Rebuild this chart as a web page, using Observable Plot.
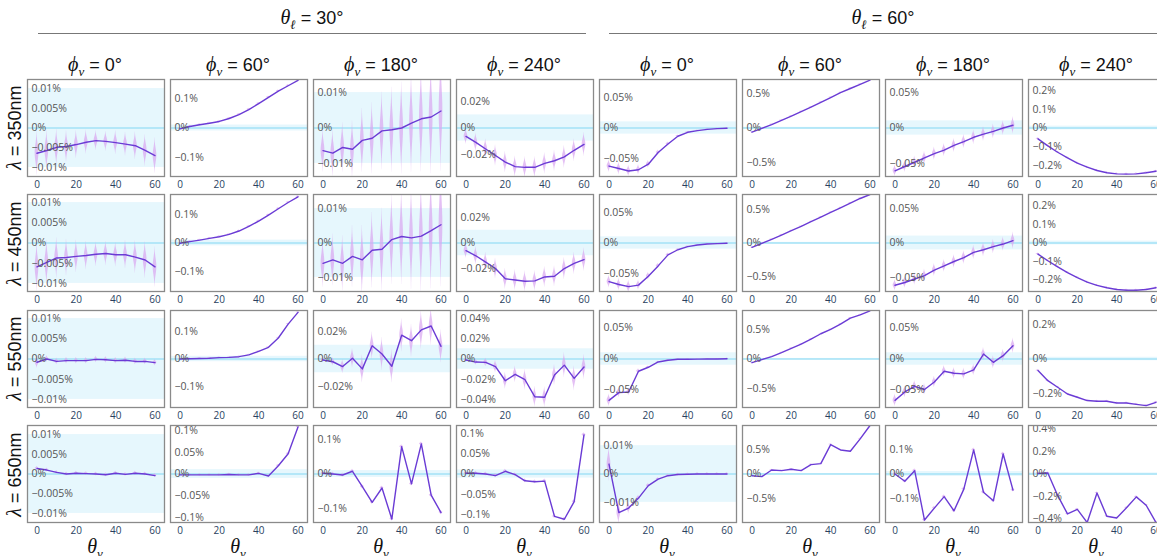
<!DOCTYPE html>
<html><head><meta charset="utf-8">
<script src="https://cdn.jsdelivr.net/npm/d3@7"></script>
<script src="https://cdn.jsdelivr.net/npm/@observablehq/plot@0.6"></script>
<style>
html,body{margin:0;padding:0;background:#fff;}
#root{position:relative;width:1157px;height:556px;overflow:hidden;font-family:"Liberation Sans",Arial,sans-serif;color:#111;}
.abs{position:absolute;white-space:nowrap;}
.hdr{font-size:18px;line-height:22px;text-align:center;transform:translateX(-50%);}
.g{font-family:"Liberation Serif","DejaVu Serif",serif;font-style:italic;font-size:20px;}
.s{font-family:"Liberation Serif","DejaVu Serif",serif;font-style:italic;font-size:13px;position:relative;top:5px;}
.rule{position:absolute;height:0;border-top:1.4px solid #777;}
.rowlab{font-size:18px;line-height:22px;width:140px;text-align:center;transform:rotate(-90deg);}
svg{overflow:visible;}
</style></head>
<body><div id="root"></div>
<script>
// ---------------- data ----------------
const thetaV = [0,5,10,15,20,25,30,35,40,45,50,55,60];
const xTicks = [0,20,40,60];
const wavelengths = ["350nm","450nm","550nm","650nm"];
const thetaL = ["30°","60°"];
const phiV = ["0°","60°","180°","240°"];
const bandHalf = 0.01; // shaded band, ±0.01 %

// mean relative difference (%) per panel: columns = θℓ30 φ0,60,180,240 | θℓ60 φ0,60,180,240
const mean350 = [
 [-0.0064,-0.0057,-0.0049,-0.0047,-0.0042,-0.0036,-0.0032,-0.0034,-0.0037,-0.0041,-0.0045,-0.0057,-0.0070],
 [-0.003,0.005,0.011,0.016,0.022,0.032,0.045,0.062,0.082,0.103,0.124,0.142,0.160],
 [-0.0064,-0.0071,-0.0055,-0.0060,-0.0035,-0.0029,-0.0008,-0.0005,0.0000,0.0014,0.0026,0.0031,0.0048],
 [-0.0064,-0.011,-0.016,-0.021,-0.026,-0.0295,-0.030,-0.030,-0.027,-0.025,-0.022,-0.017,-0.0125],
 [-0.062,-0.066,-0.070,-0.068,-0.059,-0.040,-0.026,-0.0134,-0.007,-0.0043,-0.0022,-0.001,-0.0005],
 [-0.060,-0.005,0.050,0.110,0.170,0.235,0.300,0.370,0.440,0.510,0.570,0.630,0.690],
 [-0.060,-0.054,-0.048,-0.042,-0.036,-0.031,-0.0245,-0.019,-0.013,-0.0085,-0.0047,0.0,0.0038],
 [-0.058,-0.096,-0.130,-0.160,-0.188,-0.210,-0.228,-0.240,-0.246,-0.247,-0.246,-0.240,-0.232]
];
const mean450 = [
 [-0.0059,-0.0048,-0.0037,-0.0036,-0.0033,-0.0031,-0.0028,-0.0026,-0.0029,-0.0029,-0.0035,-0.0042,-0.0059],
 [-0.001,0.005,0.010,0.016,0.022,0.030,0.042,0.058,0.077,0.098,0.120,0.142,0.162],
 [-0.0059,-0.0049,-0.0059,-0.0039,-0.0049,-0.0021,-0.0018,0.0010,0.0019,0.0015,0.0020,0.0036,0.0053],
 [-0.006,-0.010,-0.015,-0.020,-0.028,-0.029,-0.030,-0.0297,-0.0266,-0.026,-0.020,-0.016,-0.013],
 [-0.063,-0.0676,-0.071,-0.0686,-0.054,-0.0373,-0.0193,-0.011,-0.006,-0.0033,-0.0016,-0.001,-0.0005],
 [-0.066,-0.005,0.055,0.120,0.185,0.250,0.320,0.390,0.460,0.530,0.600,0.670,0.730],
 [-0.061,-0.057,-0.052,-0.047,-0.039,-0.033,-0.0267,-0.021,-0.0136,-0.0097,-0.0053,-0.0015,0.0034],
 [-0.060,-0.096,-0.129,-0.160,-0.187,-0.211,-0.229,-0.242,-0.251,-0.255,-0.255,-0.251,-0.242]
];
const mean550 = [
 [-0.0008,0.0000,-0.0006,-0.0004,-0.0004,-0.0004,-0.0001,-0.0002,-0.0004,-0.0003,-0.0006,-0.0006,-0.0009],
 [0.000,0.001,0.002,0.003,0.005,0.006,0.0085,0.015,0.028,0.043,0.077,0.128,0.171],
 [-0.0007,-0.002,-0.0055,0.0005,-0.0072,0.0096,0.0036,-0.0053,0.0173,0.0133,0.0212,0.024,0.0092],
 [-0.001,-0.003,-0.0033,-0.0075,-0.0213,-0.015,-0.0203,-0.037,-0.0374,-0.0157,-0.006,-0.019,-0.0079],
 [-0.0665,-0.054,-0.053,-0.0197,-0.0133,-0.0048,-0.002,-0.0005,-0.0003,-0.0002,0.0,0.0,0.0005],
 [-0.062,-0.011,0.039,0.107,0.180,0.253,0.337,0.427,0.500,0.590,0.690,0.747,0.815],
 [-0.0665,-0.053,-0.044,-0.049,-0.037,-0.0197,-0.023,-0.024,-0.0176,0.008,-0.0053,0.0053,0.0213],
 [-0.067,-0.125,-0.163,-0.202,-0.221,-0.240,-0.244,-0.244,-0.254,-0.254,-0.262,-0.269,-0.250]
];
const mean650 = [
 [0.0014,0.0010,0.0004,0.0000,0.0002,0.0001,0.0000,-0.0002,0.0002,-0.0001,0.0002,0.0000,-0.0004],
 [-0.002,-0.002,-0.002,-0.002,-0.002,-0.001,-0.002,-0.002,0.0015,-0.0045,0.019,0.0465,0.108],
 [0.002,0.000,-0.003,0.008,-0.037,-0.083,-0.041,-0.132,0.080,-0.029,0.088,-0.062,-0.113],
 [0.0017,0.0017,0.000,-0.004,0.0067,-0.0017,-0.0167,-0.019,-0.0175,-0.104,-0.111,-0.068,0.096],
 [0.0035,-0.0136,-0.012,-0.0085,-0.0041,-0.0018,-0.0006,-0.0002,-0.0001,0.0,0.0,0.0,0.0],
 [-0.034,-0.054,0.081,0.068,0.095,0.068,0.190,0.210,0.595,0.486,0.460,0.710,0.980],
 [0.000,-0.030,0.0137,-0.189,-0.140,-0.093,-0.151,-0.062,0.099,-0.075,-0.110,0.082,-0.066],
 [0.005,0.009,-0.190,-0.354,-0.314,-0.430,-0.169,-0.375,-0.390,-0.300,-0.203,-0.277,-0.430]
];

// half-extent of the uncertainty distribution (%) at each point
const spread350 = [
 [0.0055,0.005,0.0045,0.004,0.0035,0.003,0.0025,0.0025,0.003,0.003,0.0035,0.004,0.0045],
 [0.004,0.004,0.004,0.004,0.004,0.004,0.004,0.004,0.004,0.004,0.004,0.004,0.004],
 [0.006,0.0065,0.007,0.008,0.009,0.010,0.011,0.012,0.013,0.014,0.015,0.016,0.017],
 [0.006,0.007,0.0075,0.008,0.008,0.008,0.008,0.008,0.008,0.008,0.0085,0.0085,0.009],
 [0.010,0.010,0.009,0.008,0.006,0.004,0.003,0.002,0.0015,0.001,0.001,0.001,0.001],
 [0.010,0.010,0.010,0.010,0.010,0.010,0.010,0.010,0.010,0.010,0.010,0.010,0.010],
 [0.008,0.008,0.0085,0.009,0.009,0.009,0.0095,0.0095,0.010,0.010,0.010,0.010,0.012],
 [0.006,0.006,0.006,0.006,0.006,0.006,0.006,0.006,0.006,0.006,0.006,0.006,0.006]
];
const spread450 = [
 [0.006,0.0055,0.005,0.0045,0.004,0.0035,0.003,0.003,0.003,0.0035,0.004,0.0045,0.005],
 [0.004,0.004,0.004,0.004,0.004,0.004,0.004,0.004,0.004,0.004,0.004,0.004,0.004],
 [0.007,0.0075,0.008,0.009,0.010,0.011,0.012,0.013,0.014,0.015,0.016,0.017,0.018],
 [0.006,0.007,0.0075,0.008,0.008,0.008,0.008,0.008,0.008,0.008,0.0085,0.0085,0.009],
 [0.010,0.010,0.010,0.008,0.006,0.004,0.003,0.002,0.0015,0.001,0.001,0.001,0.001],
 [0.010,0.010,0.010,0.010,0.010,0.010,0.010,0.010,0.010,0.010,0.010,0.010,0.010],
 [0.008,0.008,0.0085,0.009,0.009,0.009,0.0095,0.0095,0.010,0.010,0.010,0.010,0.012],
 [0.006,0.006,0.006,0.006,0.006,0.006,0.006,0.006,0.006,0.006,0.006,0.006,0.006]
];
const spread550 = [
 [0.0015,0.0008,0.0008,0.0008,0.0008,0.0008,0.0008,0.0008,0.0008,0.0008,0.0008,0.0008,0.0008],
 [0.003,0.003,0.003,0.003,0.003,0.003,0.003,0.003,0.003,0.003,0.003,0.003,0.003],
 [0.002,0.003,0.005,0.007,0.010,0.010,0.012,0.012,0.012,0.012,0.014,0.014,0.012],
 [0.002,0.003,0.004,0.006,0.008,0.008,0.010,0.010,0.010,0.010,0.012,0.012,0.012],
 [0.010,0.008,0.006,0.004,0.002,0.001,0.001,0.001,0.001,0.001,0.001,0.001,0.001],
 [0.010,0.010,0.010,0.010,0.010,0.010,0.010,0.010,0.010,0.010,0.010,0.010,0.010],
 [0.010,0.009,0.009,0.009,0.009,0.009,0.009,0.009,0.009,0.010,0.010,0.010,0.012],
 [0.006,0.006,0.006,0.006,0.006,0.006,0.006,0.006,0.006,0.006,0.006,0.006,0.006]
];
const spread650 = [
 [0.0005,0.0005,0.0005,0.0005,0.0005,0.0005,0.0005,0.0005,0.0005,0.0005,0.0005,0.0005,0.0005],
 [0.003,0.003,0.003,0.003,0.003,0.003,0.003,0.003,0.003,0.003,0.003,0.003,0.003],
 [0.006,0.006,0.006,0.006,0.006,0.006,0.006,0.006,0.006,0.006,0.006,0.006,0.006],
 [0.005,0.005,0.005,0.005,0.005,0.005,0.005,0.005,0.005,0.005,0.005,0.005,0.005],
 [0.006,0.004,0.002,0.001,0.0008,0.0005,0.0005,0.0005,0.0005,0.0005,0.0005,0.0005,0.0005],
 [0.015,0.015,0.015,0.015,0.015,0.015,0.015,0.015,0.015,0.015,0.015,0.015,0.015],
 [0.008,0.008,0.008,0.008,0.008,0.008,0.008,0.008,0.008,0.008,0.008,0.008,0.008],
 [0.010,0.010,0.010,0.010,0.010,0.010,0.010,0.010,0.010,0.010,0.010,0.010,0.010]
];

// symmetric y-axis half range (%) per panel
const yMax350 = [0.0123,0.163,0.0137,0.037,0.079,0.70,0.068,0.26];
const yMax450 = [0.012,0.17,0.0141,0.038,0.079,0.73,0.07,0.262];
const yMax550 = [0.012,0.178,0.0353,0.0475,0.078,0.82,0.078,0.28];
const yMax650 = [0.0123,0.1115,0.142,0.119,0.0171,0.98,0.199,0.43];

// y tick values (%) per panel
const yTicks350 = [[0.01,0.005,0,-0.005,-0.01],[0.1,0,-0.1],[0.01,0,-0.01],[0.02,0,-0.02],[0.05,0,-0.05],[0.5,0,-0.5],[0.05,0,-0.05],[0.2,0.1,0,-0.1,-0.2]];
const yTicks450 = [[0.01,0.005,0,-0.005,-0.01],[0.1,0,-0.1],[0.01,0,-0.01],[0.02,0,-0.02],[0.05,0,-0.05],[0.5,0,-0.5],[0.05,0,-0.05],[0.2,0.1,0,-0.1,-0.2]];
const yTicks550 = [[0.01,0.005,0,-0.005,-0.01],[0.1,0,-0.1],[0.02,0,-0.02],[0.04,0.02,0,-0.02,-0.04],[0.05,0,-0.05],[0.5,0,-0.5],[0.05,0,-0.05],[0.2,0,-0.2]];
const yTicks650 = [[0.01,0.005,0,-0.005,-0.01],[0.1,0.05,0,-0.05,-0.1],[0.1,0,-0.1],[0.1,0.05,0,-0.05,-0.1],[0.01,0,-0.01],[0.5,0,-0.5],[0.1,0,-0.1],[0.4,0.2,0,-0.2,-0.4]];

// ---------------- layout ----------------
const means = [mean350, mean450, mean550, mean650];
const spreads = [spread350, spread450, spread550, spread650];
const yMaxes = [yMax350, yMax450, yMax550, yMax650];
const yTicksAll = [yTicks350, yTicks450, yTicks550, yTicks650];

const PW = 137, PH = 97;
const colLeft = c => 26.5 + c * 143;
const rowTop = r => 78.5 + r * 115.5;
const root = document.getElementById("root");

const fmt = v => v === 0 ? "0%" : (v < 0 ? "\u2212" : "") + String(Math.abs(v)) + "%";

function panel(r, c) {
  const mean = means[r][c], spread = spreads[r][c], M = yMaxes[r][c], ticks = yTicksAll[r][c];
  const pts = thetaV.map((t, i) => ({t, v: mean[i]}));
  const vio = [];
  thetaV.forEach((t, i) => {
    for (let k = 0; k <= 16; k++) {
      const u = -1 + k / 8;
      const w = 0.95 * Math.exp(-3.2 * u * u) * (1 - u * u * 0.15);
      vio.push({i, y: mean[i] + u * spread[i], x1: t - w, x2: t + w});
    }
  });
  return Plot.plot({
    width: PW + 2, height: PH + 2 + 20,
    marginTop: 1, marginBottom: 21, marginLeft: 1, marginRight: 1,
    style: {background: "transparent", fontFamily: "'Open Sans', sans-serif", fontSize: "10px", overflow: "visible"},
    x: {domain: [0, 60], insetLeft: 9.5, insetRight: 9.5},
    y: {domain: [-M, M]},
    marks: [
      Plot.rect([{lo: -bandHalf, hi: bandHalf}], {y1: d => d.lo, y2: d => d.hi, fill: "#e6f7fd", clip: true}),
      Plot.ruleY([0], {stroke: "#a3e2f6", strokeWidth: 1.3}),
      Plot.areaX(vio, {y: "y", x1: "x1", x2: "x2", z: "i", fill: "#d9a8f0", fillOpacity: 0.72, clip: true}),
      Plot.line(pts, {x: "t", y: "v", stroke: "#6a3bd5", strokeWidth: 1.4, clip: true}),
      Plot.axisY(ticks, {anchor: "left", tickSize: 0, tickPadding: 0, dx: 4, textAnchor: "start", tickFormat: fmt, fill: "#555", fontSize: 10.5, label: null, clip: true}),
      Plot.axisX(xTicks, {anchor: "bottom", tickSize: 0, tickPadding: 4.5, fill: "#2a3f5f", fontSize: 10, label: null}),
      Plot.frame({stroke: "#8a8a8a", strokeWidth: 1.3})
    ]
  });
}

for (let r = 0; r < 4; r++) {
  for (let c = 0; c < 8; c++) {
    const svg = panel(r, c);
    svg.style.position = "absolute";
    svg.style.left = (colLeft(c) - 1) + "px";
    svg.style.top = (rowTop(r) - 1) + "px";
    root.appendChild(svg);
  }
}

function addDiv(cls, html, left, top, extra) {
  const d = document.createElement("div");
  d.className = "abs " + cls;
  d.innerHTML = html;
  d.style.left = left + "px";
  d.style.top = top + "px";
  if (extra) Object.assign(d.style, extra);
  root.appendChild(d);
  return d;
}

// θℓ group headers with rules
const groupSpans = [[38, 586], [609, 1157]];
thetaL.forEach((v, g) => {
  const [a, b] = groupSpans[g];
  addDiv("hdr", `<span class="g">θ</span><span class="s">ℓ</span> = ${v}`, (a + b) / 2, 6);
  const line = document.createElement("div");
  line.className = "rule";
  line.style.left = a + "px"; line.style.width = (b - a) + "px"; line.style.top = "33px";
  root.appendChild(line);
});

// φv column headers and θv axis titles
for (let c = 0; c < 8; c++) {
  const cx = colLeft(c) + PW / 2;
  addDiv("hdr", `<span class="g">ϕ</span><span class="s">v</span> = ${phiV[c % 4]}`, cx, 53);
  addDiv("hdr", `<span class="g">θ</span><span class="s">v</span>`, cx, 535);
}

// λ row labels
wavelengths.forEach((w, r) => {
  const cy = rowTop(r) + PH / 2;
  addDiv("rowlab", `<span class="g">λ</span> = ${w}`, 14 - 70, cy - 11);
});
</script>
</body></html>
